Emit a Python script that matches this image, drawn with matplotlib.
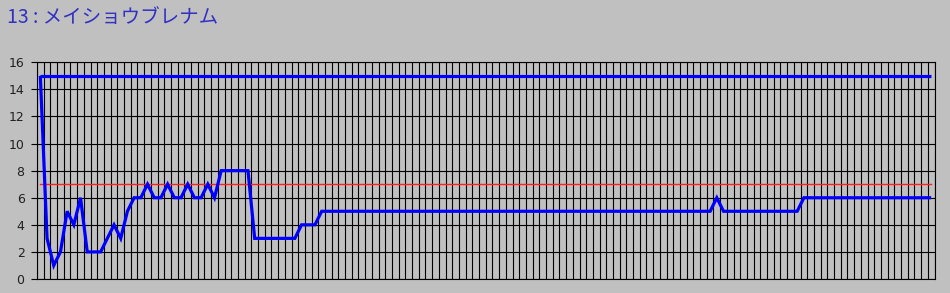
import numpy as np
import matplotlib
matplotlib.use('Agg')
import matplotlib.pyplot as plt

plt.rcParams['font.family'] = ['Noto Sans CJK JP', 'DejaVu Sans']

# data (one point per race)
title = '13 : メイショウブレナム'
rank = ([15, 3, 1, 2, 5, 4, 6, 2, 2, 2, 3, 4, 3, 5, 6, 6, 7, 6, 6, 7, 6, 6, 7, 6, 6, 7, 6]
        + [8] * 5 + [3] * 7 + [4] * 3 + [5] * 59 + [6] + [5] * 12 + [6] * 20)
runners = [15] * len(rank)
line_7 = [7] * len(rank)
y_ticks = [0, 2, 4, 6, 8, 10, 12, 14, 16]

bg = '#C0C0C0'
x = np.arange(len(rank))

fig = plt.figure(figsize=(9.5, 2.93), dpi=100, facecolor=bg)
ax = fig.add_axes([37 / 950, 1 - 279 / 293, 897.5 / 950, (279 - 62.3) / 293])
ax.set_facecolor(bg)

ax.plot(x, line_7, color='#FF2020', lw=1.0, zorder=3)
ax.plot(x, runners, color='#0000FF', lw=2.3, zorder=4, solid_capstyle='butt')
ax.plot(x, rank, color='#0000FF', lw=2.3, zorder=5, solid_capstyle='butt', solid_joinstyle='miter')

ax.set_xlim(-0.5, len(rank) - 0.5)
ax.set_ylim(0, 16)
ax.set_xticks(np.arange(-0.5, len(rank), 1))
ax.set_xticklabels([])
ax.set_yticks(y_ticks)
ax.tick_params(axis='x', length=0)
ax.tick_params(axis='y', length=4, width=0.8, color='black', pad=5,
               labelsize=9, labelcolor='#202020')
for lab in ax.get_yticklabels():
    lab.set_fontfamily('DejaVu Sans')
ax.grid(True, color='black', lw=0.8, zorder=1)
ax.set_axisbelow(True)
for s in ax.spines.values():
    s.set_color('black')
    s.set_linewidth(0.8)

fig.text(7 / 950, 1 - 18 / 293, title, color='#3030C4', fontsize=14,
         ha='left', va='center')

fig.savefig('out.png', dpi=100, facecolor=bg)
